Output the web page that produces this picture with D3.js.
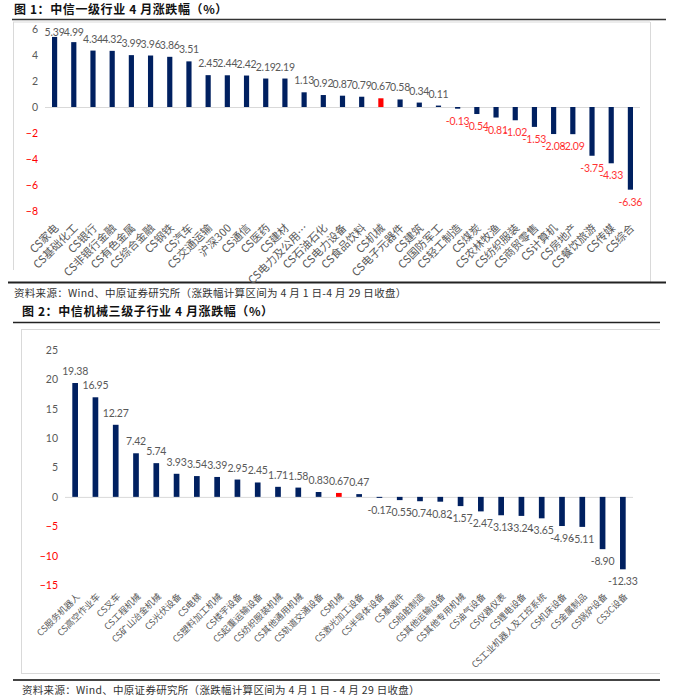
<!DOCTYPE html>
<html><head><meta charset="utf-8">
<script src="https://cdn.jsdelivr.net/npm/d3@7"></script>
<style>
body{margin:0;background:#fff;}
svg{display:block;}
</style></head>
<body>
<svg id="c" width="677" height="700"></svg>
<script>
const cats1 = ["CS家电","CS基础化工","CS银行","CS非银行金融","CS有色金属","CS综合金融","CS钢铁","CS汽车","CS交通运输","沪深300","CS通信","CS医药","CS建材","CS电力及公用…","CS石油石化","CS电力设备","CS食品饮料","CS机械","CS电子元器件","CS建筑","CS国防军工","CS轻工制造","CS煤炭","CS农林牧渔","CS纺织服装","CS商贸零售","CS计算机","CS房地产","CS餐饮旅游","CS传媒","CS综合"];
const vals1 = [5.39,4.99,4.34,4.32,3.99,3.96,3.86,3.51,2.45,2.44,2.42,2.19,2.19,1.13,0.92,0.87,0.79,0.67,0.58,0.34,0.11,-0.13,-0.54,-0.81,-1.02,-1.53,-2.08,-2.09,-3.75,-4.33,-6.36];
const ticks1 = [6,4,2,0,-2,-4,-6,-8];

const cats2 = ["CS服务机器人","CS高空作业车","CS叉车","CS工程机械","CS矿山冶金机械","CS光伏设备","CS电梯","CS塑料加工机械","CS楼宇设备","CS起重运输设备","CS纺织服装机械","CS其他通用机械","CS轨道交通设备","CS机械","CS激光加工设备","CS半导体设备","CS基础件","CS船舶制造","CS其他运输设备","CS其他专用机械","CS油气设备","CS仪器仪表","CS锂电设备","CS工业机器人及工控系统","CS机床设备","CS金属制品","CS锅炉设备","CS3C设备"];
const vals2 = [19.38,16.95,12.27,7.42,5.74,3.93,3.54,3.39,2.95,2.45,1.71,1.58,0.83,0.67,0.47,-0.17,-0.55,-0.74,-0.82,-1.57,-2.47,-3.13,-3.24,-3.65,-4.96,-5.11,-8.90,-12.33];
const ticks2 = [25,20,15,10,5,0,-5,-10,-15];

const highlight = "CS机械";
const NAVY = "#002060", RED = "#FF0000", GRAY = "#595959";
const CJK = "'Noto Sans CJK SC', sans-serif";
const NUM = "Lato, 'Noto Sans', sans-serif";

const svg = d3.select("#c");

function line(x1,y1,x2,y2,col,w){
  svg.append("line").attr("x1",x1).attr("y1",y1).attr("x2",x2).attr("y2",y2)
    .attr("stroke",col).attr("stroke-width",w);
}
function text(x,y,s,opt){
  const t = svg.append("text").attr("x",x).attr("y",y).text(s)
    .attr("font-family",opt.ff||CJK).attr("font-size",opt.fs||11)
    .attr("fill",opt.fill||"#222");
  if(opt.fw) t.attr("font-weight",opt.fw);
  if(opt.ls) t.attr("letter-spacing",opt.ls);
  return t;
}

// ===== Chart 1 frame/titles =====
text(14,14,"图 1：中信一级行业 4 月涨跌幅（%）",{fs:12,fw:"bold",ls:0.6,fill:"#111"});
line(12,19.5,666,19.5,"#333",1.5);
line(13,22,650,22,"#d9d9d9",1);
line(13.5,22,13.5,270,"#d9d9d9",1);
line(650.5,22,650.5,282,"#d9d9d9",1);
line(8,282.5,666,282.5,"#222",2);
text(14,297,"资料来源：Wind、中原证券研究所（涨跌幅计算区间为 4 月 1 日-4 月 29 日收盘）",{fs:10.5,fill:"#333",ls:0.3});

// ===== Chart 2 frame/titles =====
text(22,316,"图 2：中信机械三级子行业 4 月涨跌幅（%）",{fs:12,fw:"bold",ls:0.6,fill:"#111"});
line(13,322.5,660,322.5,"#222",1.5);
line(21,329.5,660,329.5,"#d9d9d9",1);
line(21.5,329.5,21.5,673.5,"#d9d9d9",1);
line(21,673.5,660,673.5,"#d9d9d9",1);
line(13,680,660,680,"#444",2);
text(22,694,"资料来源：Wind、中原证券研究所（涨跌幅计算区间为 4 月 1 日 - 4 月 29 日收盘）",{fs:10.5,fill:"#333",ls:0.3});

function drawChart(cfg){
  const {cats, vals, ticks, x0, x1, yTop, yBot, dom, bw, tickX, lblY, xfs, negLabelColor, minLabelY} = cfg;
  const x = d3.scaleBand().domain(cats).range([x0,x1]).paddingInner(1-bw).paddingOuter((1-bw)/2);
  const y = d3.scaleLinear().domain(dom).range([yBot,yTop]);
  const g = svg.append("g");

  // zero line
  g.append("line").attr("x1",x0).attr("x2",x1).attr("y1",y(0)+0.5).attr("y2",y(0)+0.5)
    .attr("stroke","#d9d9d9").attr("stroke-width",1);

  // y axis
  const ya = g.append("g").attr("transform",`translate(${tickX},0)`)
    .call(d3.axisLeft(y).tickValues(ticks).tickSize(0).tickPadding(0).tickFormat(d3.format("d")));
  ya.select(".domain").remove();
  ya.selectAll("text").attr("font-family",NUM).attr("font-size",cfg.yfs)
    .attr("fill",d=> d<0 ? RED : GRAY);

  // bars
  g.selectAll("rect.bar").data(cats).join("rect")
    .attr("x",d=>x(d)).attr("width",x.bandwidth())
    .attr("y",(d,i)=> y(Math.max(0,vals[i])))
    .attr("height",(d,i)=> Math.abs(y(vals[i])-y(0)))
    .attr("fill",d=> d===highlight ? RED : NAVY);

  // value labels
  g.selectAll("text.val").data(cats).join("text")
    .attr("x",d=>x(d)+x.bandwidth()/2)
    .attr("y",(d,i)=> vals[i]>=0 ? Math.max(y(vals[i])-8, minLabelY) : y(vals[i])+16)
    .attr("text-anchor","middle")
    .attr("font-family",NUM).attr("font-size",10.5).attr("letter-spacing",-0.2)
    .attr("fill",(d,i)=> vals[i]<0 ? negLabelColor : GRAY)
    .text((d,i)=> vals[i].toFixed(2));

  // category labels
  g.selectAll("text.cat").data(cats).join("text")
    .attr("transform",d=>`translate(${x(d)+x.bandwidth()/2+cfg.lblDx},${lblY}) rotate(-45)`)
    .attr("text-anchor","end").attr("dy","0.35em")
    .attr("font-family",CJK).attr("font-size",xfs)
    .attr("fill",GRAY)
    .text(d=>d);
}

drawChart({cats:cats1, vals:vals1, ticks:ticks1, x0:45, x1:640, yTop:29, yBot:211, dom:[-8,6],
  bw:0.27, tickX:38, yfs:10.5, lblY:226, lblDx:2, xfs:11, negLabelColor:"#FF3333", minLabelY:36});

drawChart({cats:cats2, vals:vals2, ticks:ticks2, x0:65, x1:633, yTop:350, yBot:585, dom:[-15,25],
  bw:0.28, tickX:58, yfs:10.5, lblY:595, lblDx:3, xfs:9, negLabelColor:GRAY, minLabelY:340});
</script>
</body></html>
